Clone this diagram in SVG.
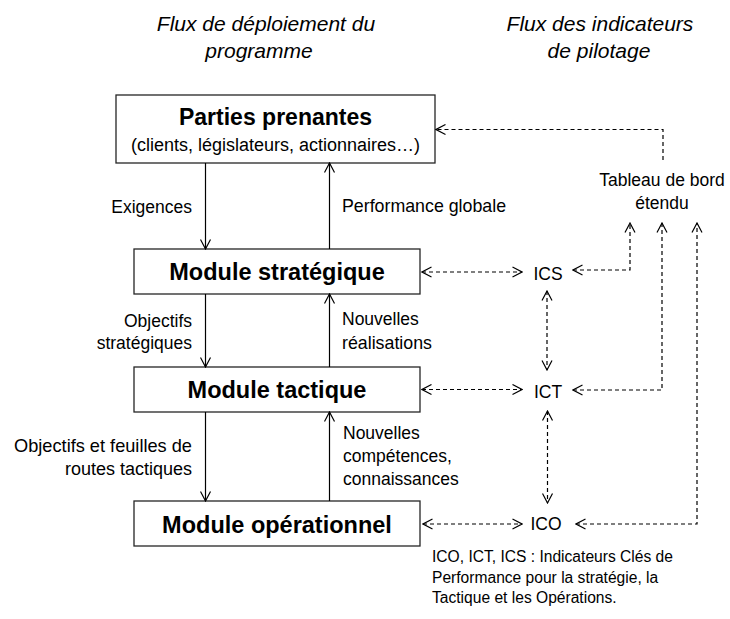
<svg xmlns="http://www.w3.org/2000/svg" width="730" height="619" viewBox="0 0 730 619">
<style>
text{font-family:"Liberation Sans",Arial,sans-serif;fill:#000}
.title{font-size:21px;font-style:italic}
.lbl{font-size:17.5px}
.big{font-size:23.5px;font-weight:bold}
.note{font-size:15.6px}
.box{fill:#fff;stroke:#262626;stroke-width:1.3}
.solid{fill:none;stroke:#000;stroke-width:1.2}
.dash{fill:none;stroke:#000;stroke-width:1.2;stroke-dasharray:4 3}
</style>
<defs>
<marker id="ah" viewBox="0 0 12 12" refX="11" refY="6" markerWidth="12" markerHeight="12" markerUnits="userSpaceOnUse" orient="auto-start-reverse">
<path d="M1.5,1 L11,6 L1.5,11" fill="none" stroke="#000" stroke-width="1.2"/>
</marker>
</defs>
<rect width="730" height="619" fill="#fff"/>
<g id="titles">
<text class="title" x="266" y="31" text-anchor="middle">Flux de déploiement du</text>
<text class="title" x="259" y="58" text-anchor="middle">programme</text>
<text class="title" x="600" y="31" text-anchor="middle">Flux des indicateurs</text>
<text class="title" x="599" y="58" text-anchor="middle">de pilotage</text>
</g>
<g id="parties">
<rect class="box" x="116" y="95" width="319" height="68"/>
<text class="big" x="275.5" y="125" text-anchor="middle" style="font-size:23px">Parties prenantes</text>
<text class="lbl" x="275.5" y="151" text-anchor="middle" style="font-size:18px">(clients, législateurs, actionnaires…)</text>
</g>
<g id="strategique">
<rect class="box" x="134" y="249" width="286" height="45"/>
<text class="big" x="277" y="280" text-anchor="middle">Module stratégique</text>
</g>
<g id="tactique">
<rect class="box" x="134" y="367" width="286" height="45"/>
<text class="big" x="277" y="398" text-anchor="middle">Module tactique</text>
</g>
<g id="operationnel">
<rect class="box" x="134" y="501" width="286" height="45"/>
<text class="big" x="277" y="533" text-anchor="middle">Module opérationnel</text>
</g>
<g id="tableau">
<text class="lbl" x="662" y="186" text-anchor="middle">Tableau de bord</text>
<text class="lbl" x="662" y="209" text-anchor="middle">étendu</text>
</g>
<g id="ics"><text class="lbl" x="548" y="280" text-anchor="middle">ICS</text></g>
<g id="ict"><text class="lbl" x="548" y="398" text-anchor="middle">ICT</text></g>
<g id="ico"><text class="lbl" x="546" y="530" text-anchor="middle">ICO</text></g>
<g id="connectors">
<path class="solid" d="M205.5,163 V249" marker-end="url(#ah)"/>
<path class="solid" d="M329.5,249 V163" marker-end="url(#ah)"/>
<path class="solid" d="M205.5,294 V367" marker-end="url(#ah)"/>
<path class="solid" d="M329.5,367 V294" marker-end="url(#ah)"/>
<path class="solid" d="M205.5,412 V501" marker-end="url(#ah)"/>
<path class="solid" d="M329.5,501 V412" marker-end="url(#ah)"/>
<path class="dash" d="M663,160 V129.5 H436" marker-end="url(#ah)"/>
<path class="dash" d="M422,272 H522" marker-start="url(#ah)" marker-end="url(#ah)"/>
<path class="dash" d="M422,389.5 H522" marker-start="url(#ah)" marker-end="url(#ah)"/>
<path class="dash" d="M423,524 H522" marker-start="url(#ah)" marker-end="url(#ah)"/>
<path class="dash" d="M573,270 H630 V223" marker-start="url(#ah)" marker-end="url(#ah)"/>
<path class="dash" d="M573,390 H662 V223" marker-start="url(#ah)" marker-end="url(#ah)"/>
<path class="dash" d="M576,524 H697 V223" marker-start="url(#ah)" marker-end="url(#ah)"/>
<path class="dash" d="M547,291 V370" marker-start="url(#ah)" marker-end="url(#ah)"/>
<path class="dash" d="M547.5,411 V503" marker-start="url(#ah)" marker-end="url(#ah)"/>
</g>
<g id="labels">
<text class="lbl" x="192" y="212.5" text-anchor="end">Exigences</text>
<text class="lbl" x="342" y="212" style="font-size:17.8px">Performance globale</text>
<text class="lbl" x="192" y="326.5" text-anchor="end">Objectifs</text>
<text class="lbl" x="192" y="349" text-anchor="end">stratégiques</text>
<text class="lbl" x="342" y="325">Nouvelles</text>
<text class="lbl" x="342" y="349" style="font-size:17.8px">réalisations</text>
<text class="lbl" x="192" y="451.5" text-anchor="end" style="font-size:18.2px">Objectifs et feuilles de</text>
<text class="lbl" x="192" y="475" text-anchor="end" style="font-size:18px">routes tactiques</text>
<text class="lbl" x="343" y="438.5">Nouvelles</text>
<text class="lbl" x="343" y="462">compétences,</text>
<text class="lbl" x="343" y="485">connaissances</text>
</g>
<g id="note">
<text class="note" x="432" y="562">ICO, ICT, ICS : Indicateurs Clés de</text>
<text class="note" x="432" y="582.5">Performance pour la stratégie, la</text>
<text class="note" x="432" y="603">Tactique et les Opérations.</text>
</g>
</svg>
